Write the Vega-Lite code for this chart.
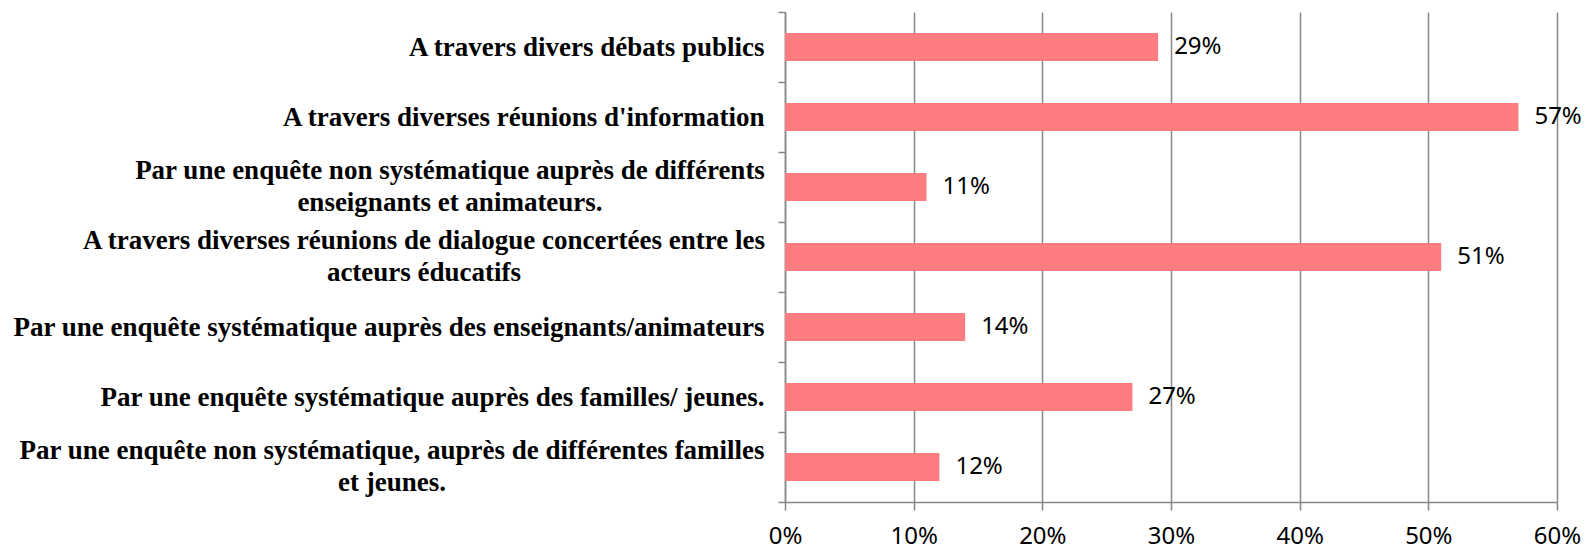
{
  "$schema": "https://vega.github.io/schema/vega-lite/v6.json",
  "autosize": {"type": "none"},
  "width": 772,
  "height": 490,
  "padding": {"left": 785, "top": 12, "right": 36, "bottom": 46},
  "background": "white",
  "config": {"view": {"stroke": null}},
  "data": {
    "values": [
      {"item": "A travers divers débats publics", "share": 0.29},
      {"item": "A travers diverses réunions d'information", "share": 0.57},
      {"item": "Par une enquête non systématique auprès de différents\nenseignants et animateurs.", "share": 0.11},
      {"item": "A travers diverses réunions de dialogue concertées entre les\nacteurs éducatifs", "share": 0.51},
      {"item": "Par une enquête systématique auprès des enseignants/animateurs", "share": 0.14},
      {"item": "Par une enquête systématique auprès des familles/ jeunes.", "share": 0.27},
      {"item": "Par une enquête non systématique, auprès de différentes familles\net jeunes.", "share": 0.12}
    ]
  },
  "encoding": {
    "y": {
      "field": "item",
      "type": "nominal",
      "sort": null,
      "scale": {"paddingInner": 0, "paddingOuter": 0},
      "axis": {
        "title": null,
        "labelExpr": "indexof(datum.label, '\\n') >= 0 ? '' : datum.label",
        "labelFont": "Liberation Serif",
        "labelFontWeight": "bold",
        "labelFontSize": 27,
        "labelColor": "black",
        "labelLimit": 0,
        "labelPadding": 14,
        "tickBand": "extent",
        "tickSize": 7,
        "tickColor": "#878787",
        "tickWidth": 1.5,
        "domainColor": "#878787",
        "domainWidth": 1.5,
        "grid": false
      }
    },
    "x": {
      "field": "share",
      "type": "quantitative",
      "scale": {"domain": [0, 0.6], "nice": false},
      "axis": {
        "title": null,
        "format": ".0%",
        "values": [0, 0.1, 0.2, 0.3, 0.4, 0.5, 0.6],
        "labelFont": "Noto Sans",
        "labelFontSize": 24,
        "labelColor": "black",
        "labelPadding": 14,
        "labelFlush": false,
        "tickSize": 8,
        "tickColor": "#878787",
        "tickWidth": 1.5,
        "domainColor": "#878787",
        "domainWidth": 1.5,
        "grid": true,
        "gridColor": "#878787",
        "gridWidth": 1.5
      }
    }
  },
  "layer": [
    {
      "mark": {"type": "bar", "color": "#FF7C80", "height": {"band": 0.4}}
    },
    {
      "mark": {"type": "text", "align": "left", "baseline": "middle", "dx": 16, "font": "Noto Sans", "fontSize": 24, "color": "black"},
      "encoding": {
        "text": {"field": "share", "type": "quantitative", "format": ".0%"}
      }
    },
    {
      "transform": [{"filter": "indexof(datum.item, 'différents\\n') >= 0"}],
      "mark": {"type": "text", "align": "center", "baseline": "middle", "lineBreak": "\n", "lineHeight": 31.5, "dx": -335, "dy": -15.75, "font": "Liberation Serif", "fontWeight": "bold", "fontSize": 27, "color": "black"},
      "encoding": {
        "x": {"datum": 0},
        "text": {"field": "item", "type": "nominal"}
      }
    },
    {
      "transform": [{"filter": "indexof(datum.item, 'entre les\\n') >= 0"}],
      "mark": {"type": "text", "align": "center", "baseline": "middle", "lineBreak": "\n", "lineHeight": 31.5, "dx": -361, "dy": -15.75, "font": "Liberation Serif", "fontWeight": "bold", "fontSize": 27, "color": "black"},
      "encoding": {
        "x": {"datum": 0},
        "text": {"field": "item", "type": "nominal"}
      }
    },
    {
      "transform": [{"filter": "indexof(datum.item, 'familles\\n') >= 0"}],
      "mark": {"type": "text", "align": "center", "baseline": "middle", "lineBreak": "\n", "lineHeight": 31.5, "dx": -393, "dy": -15.75, "font": "Liberation Serif", "fontWeight": "bold", "fontSize": 27, "color": "black"},
      "encoding": {
        "x": {"datum": 0},
        "text": {"field": "item", "type": "nominal"}
      }
    }
  ]
}
